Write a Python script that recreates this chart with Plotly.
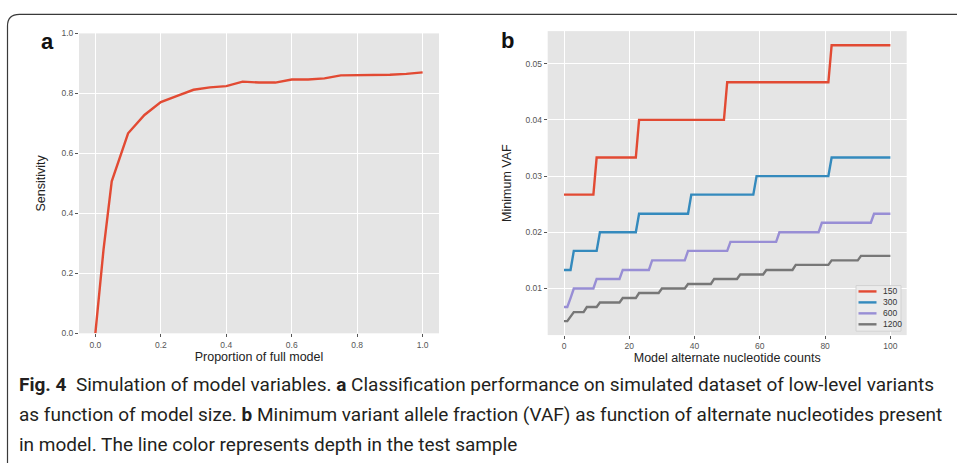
import plotly.graph_objects as go

# ---------------- data ----------------
# panel a
proportion = [0.0, 0.025, 0.05, 0.10, 0.15, 0.20, 0.25, 0.30, 0.35, 0.40, 0.45, 0.50,
              0.55, 0.60, 0.65, 0.70, 0.75, 0.80, 0.85, 0.90, 0.95, 1.00]
sensitivity = [0.0, 0.28, 0.507, 0.667, 0.728, 0.771, 0.792, 0.812, 0.820, 0.824, 0.839, 0.836,
               0.836, 0.846, 0.846, 0.850, 0.860, 0.860, 0.862, 0.862, 0.865, 0.870]

# panel b: last count at which each VAF level holds, and the level
depths = ["150", "300", "600", "1200"]
ends_150 = [9, 22, 49, 81, 100]
vaf_150 = [0.0267, 0.0333, 0.0400, 0.0467, 0.0533]
ends_300 = [2, 10, 22, 38, 58, 81, 100]
vaf_300 = [0.0133, 0.0167, 0.0200, 0.0233, 0.0267, 0.0300, 0.0333]
ends_600 = [1, 2, 9, 17, 26, 37, 50, 65, 78, 94, 100]
vaf_600 = [0.0067, 0.0083, 0.0100, 0.0117, 0.0133, 0.0150, 0.0167, 0.0183, 0.0200, 0.0217, 0.0233]
ends_1200 = [1, 2, 6, 10, 17, 22, 29, 37, 45, 53, 61, 70, 81, 90, 100]
vaf_1200 = [0.0042, 0.0050, 0.0058, 0.0067, 0.0075, 0.0083, 0.0092, 0.0100, 0.0108, 0.0117,
            0.0125, 0.0133, 0.0142, 0.0150, 0.0158]

a_xticks = [0.0, 0.2, 0.4, 0.6, 0.8, 1.0]
a_yticks = [0.0, 0.2, 0.4, 0.6, 0.8, 1.0]
b_xticks = [0, 20, 40, 60, 80, 100]
b_yticks = [0.01, 0.02, 0.03, 0.04, 0.05]

caption_lines = [
    "<b>Fig. 4</b>  Simulation of model variables. <b>a</b> Classification performance on simulated dataset of low-level variants",
    "as function of model size. <b>b</b> Minimum variant allele fraction (VAF) as function of alternate nucleotides present",
    "in model. The line color represents depth in the test sample",
]

# ---------------- styling ----------------
W, H = 957, 467
RED, BLUE, PURPLE, GREY = "#E24A33", "#348ABD", "#988ED5", "#777777"
colors = [RED, BLUE, PURPLE, GREY]
SANS = "Liberation Sans, Arial, sans-serif"
TICKFONT = dict(family=SANS, size=8.5, color="#555555")
TITLEFONT = dict(family=SANS, size=12.5, color="#222222")


def px_x(p):
    return p / W


def px_y(p):
    return 1 - p / H


def steps(ends, levels):
    xs, ys = [], []
    start = 0
    for e, lv in zip(ends, levels):
        xs += [start, e]
        ys += [lv, lv]
        start = e + 1
    return xs, ys


fig = go.Figure()

fig.add_trace(go.Scatter(x=proportion, y=sensitivity, mode="lines",
                         line=dict(color=RED, width=2.4), showlegend=False,
                         xaxis="x", yaxis="y"))

for name, col, (e, v) in zip(depths, colors,
                             [(ends_150, vaf_150), (ends_300, vaf_300),
                              (ends_600, vaf_600), (ends_1200, vaf_1200)]):
    xs, ys = steps(e, v)
    fig.add_trace(go.Scatter(x=xs, y=ys, mode="lines", name=name,
                             line=dict(color=col, width=2.4), showlegend=False,
                             xaxis="x2", yaxis="y2"))

axis_common = dict(showline=False, zeroline=False, showgrid=True, gridcolor="white",
                   gridwidth=1, ticks="outside", ticklen=3, tickcolor="#555555",
                   tickfont=TICKFONT, title_font=TITLEFONT)

fig.update_layout(
    width=W, height=H,
    margin=dict(l=0, r=0, t=0, b=0),
    paper_bgcolor="white",
    plot_bgcolor="#E5E5E5",
    showlegend=False,
    xaxis=dict(domain=[px_x(79), px_x(439)], range=[-0.05, 1.05], tickvals=a_xticks,
               ticktext=[f"{t:.1f}" for t in a_xticks], anchor="y",
               title=dict(text="Proportion of full model", standoff=2), **axis_common),
    yaxis=dict(domain=[px_y(335.5), px_y(29)], range=[0, 1.0], tickvals=a_yticks,
               ticktext=[f"{t:.1f}" for t in a_yticks], anchor="x",
               title=dict(text="Sensitivity", standoff=13), **axis_common),
    xaxis2=dict(domain=[px_x(547.7), px_x(906.7)], range=[-5, 105], tickvals=b_xticks,
                anchor="y2", title=dict(text="Model alternate nucleotide counts", standoff=2),
                **axis_common),
    yaxis2=dict(domain=[px_y(337.3), px_y(26.7)], range=[0.00171, 0.0558], tickvals=b_yticks,
                ticktext=[f"{t:.2f}" for t in b_yticks], anchor="x2",
                title=dict(text="Minimum VAF", standoff=11), **axis_common),
)

# compact legend for panel b (matplotlib-like), built from depths / colors
lg_left, lg_top, lg_right, lg_bottom = 856, 286.7, 901, 333.3
fig.add_shape(type="rect", xref="paper", yref="paper",
              x0=px_x(lg_left), x1=px_x(lg_right), y0=px_y(lg_bottom), y1=px_y(lg_top),
              fillcolor="#EBEBEB", line=dict(color="#D2D2D2", width=1))
for i, (name, col) in enumerate(zip(depths, colors)):
    yc = 292.7 + 11.2 * i
    fig.add_shape(type="line", xref="paper", yref="paper",
                  x0=px_x(858.5), x1=px_x(876.5), y0=px_y(yc), y1=px_y(yc),
                  line=dict(color=col, width=2.4))
    fig.add_annotation(text=name, x=px_x(881), y=px_y(yc), xref="paper", yref="paper",
                       showarrow=False, xanchor="left", yanchor="middle",
                       font=dict(family=SANS, size=8.5, color="#333333"))

# outer frame
r = 12
fx, fy = 7.5, 9.5
path = (f"M {px_x(fx)},{px_y(468)} L {px_x(fx)},{px_y(fy + r)} "
        f"Q {px_x(fx)},{px_y(fy)} {px_x(fx + r)},{px_y(fy)} L {px_x(960)},{px_y(fy)}")
fig.add_shape(type="path", xref="paper", yref="paper", path=path,
              line=dict(color="#3a3a3a", width=1.2))

# panel letters
for txt, x, y in [("a", 47, 37), ("b", 508, 36)]:
    fig.add_annotation(text=f"<b>{txt}</b>", x=px_x(x), y=px_y(y), xref="paper", yref="paper",
                       showarrow=False, xanchor="center", yanchor="middle",
                       font=dict(family=SANS, size=22, color="#111111"))

# caption
for i, line in enumerate(caption_lines):
    fig.add_annotation(text=line, x=px_x(17), y=px_y(388 + 30.5 * i), xref="paper", yref="paper",
                       showarrow=False, xanchor="left", yanchor="middle", align="left",
                       font=dict(family="Roboto, sans-serif", size=19, color="#231F20"))

fig.write_html("out.html")
